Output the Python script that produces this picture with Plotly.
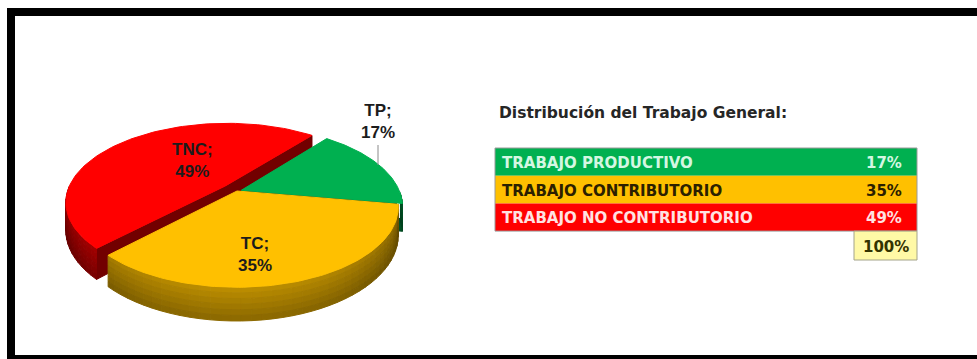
import numpy as np
import plotly.graph_objects as go

# ---- data -------------------------------------------------------------
categories = ["TP", "TC", "TNC"]
names = ["TRABAJO PRODUCTIVO", "TRABAJO CONTRIBUTORIO", "TRABAJO NO CONTRIBUTORIO"]
values = [17, 35, 49]
total_label = "100%"
title_text = "Distribución del Trabajo General:"

# ---- style ------------------------------------------------------------
top_colors = {"TP": "#00B050", "TC": "#FFC000", "TNC": "#FF0000"}
row_text_colors = {"TP": "#D4F7E2", "TC": "#2B2000", "TNC": "#FFE2E2"}
explode = {"TP": 0.03, "TC": 0.0, "TNC": 0.10}
FONT = "Liberation Sans, Arial, sans-serif"
TABLE_FONT = "DejaVu Sans, Verdana, sans-serif"

W, H = 977, 359

# 3-D pie geometry (pixel space, y grows downward)
CX, CY, RX, RY, DEPTH, PERSP = 237, 191, 158, 77, 27, 0.2
START = 51.0  # first slice starts here and slices run clockwise


def hex_rgb(h):
    h = h.lstrip("#")
    return tuple(int(h[i:i + 2], 16) for i in (0, 2, 4))


def shade(h, f):
    r, g, b = hex_rgb(h)
    return "rgb(%d,%d,%d)" % (min(255, r * f), min(255, g * f), min(255, b * f))


def proj(u, w, z):
    s = 1.0 / (1.0 + PERSP * w)
    return CX + RX * u * s, CY - RY * w * s + DEPTH * z * s


fig = go.Figure()


def poly(pts, color):
    xs = [p[0] for p in pts] + [pts[0][0]]
    ys = [p[1] for p in pts] + [pts[0][1]]
    fig.add_trace(go.Scatter(
        x=xs, y=ys, mode="lines", fill="toself", fillcolor=color,
        line=dict(color=color, width=1), hoverinfo="skip", showlegend=False))


total = float(sum(values))
slices = {}
cum = 0.0
for cat, v in zip(categories, values):
    span = v / total * 360.0
    a1 = START - cum          # upper (counter-clockwise) edge
    a0 = a1 - span            # lower edge
    cum += span
    mid = np.radians((a0 + a1) / 2)
    e = explode[cat]
    slices[cat] = dict(a0=a0, a1=a1, ou=e * np.cos(mid), ow=e * np.sin(mid))


def rim(ou, ow, t, z):
    return proj(ou + np.cos(t), ow + np.sin(t), z)


N_BANDS = 6


def draw_slice(cat):
    s = slices[cat]
    a0, a1, ou, ow = s["a0"], s["a1"], s["ou"], s["ow"]
    base = top_colors[cat]
    # radial cut faces turned toward the viewer
    for ang, visible in ((a0, np.cos(np.radians(a0)) > 0), (a1, np.cos(np.radians(a1)) < 0)):
        if not visible:
            continue
        t = np.radians(ang)
        poly([proj(ou, ow, 0), rim(ou, ow, t, 0), rim(ou, ow, t, 1), proj(ou, ow, 1)],
             shade(base, 0.45))
    # outer rim (front half), shaded along the arc and down the wall
    n = max(2, int(abs(a1 - a0) / 3.0))
    angs = np.radians(np.linspace(a0, a1, n + 1))
    bands = np.linspace(0.0, 1.0, N_BANDS + 1)
    for i in range(n):
        ta, tb = angs[i], angs[i + 1]
        tm = (ta + tb) / 2
        if np.sin(tm) >= 0.02:
            continue
        f = 0.50 + 0.25 * (-np.sin(tm)) ** 1.5
        for k in range(N_BANDS):
            za, zb = bands[k], bands[k + 1]
            fk = f * (1.0 - 0.28 * (k + 0.5) / N_BANDS)
            poly([rim(ou, ow, ta, za), rim(ou, ow, tb, za),
                  rim(ou, ow, tb, zb), rim(ou, ow, ta, zb)], shade(base, fk))
    # top face
    arc = np.radians(np.linspace(a0, a1, 90))
    poly([proj(ou, ow, 0)] + [rim(ou, ow, t, 0) for t in arc], base)


# back to front
for cat in ("TNC", "TP", "TC"):
    draw_slice(cat)

# ---- slice labels -----------------------------------------------------
val = dict(zip(categories, values))
label_pos = {"TNC": (192, 160), "TC": (255, 254), "TP": (378, 121)}
for cat in categories:
    lx, ly = label_pos[cat]
    fig.add_annotation(x=lx, y=ly, text=f"<b>{cat};<br>{val[cat]}%</b>", showarrow=False,
                       font=dict(family=FONT, size=17, color="#1c1c1c"),
                       xanchor="center", yanchor="middle")
fig.add_shape(type="line", x0=378, x1=378, y0=145, y1=165,
              line=dict(color="#8a8a8a", width=1))

# ---- summary table ----------------------------------------------------
fig.add_annotation(x=497, y=113, text=f"<b>{title_text}</b>", showarrow=False,
                   xanchor="left", yanchor="middle",
                   font=dict(family=TABLE_FONT, size=15.5, color="#262626"))

TX0, TX1, TY0, RH = 495, 917, 148, 27.7
for i, (cat, name) in enumerate(zip(categories, names)):
    y0 = TY0 + i * RH
    fig.add_shape(type="rect", x0=TX0, x1=TX1, y0=y0, y1=y0 + RH,
                  fillcolor=top_colors[cat], line=dict(width=0), layer="below")
    fig.add_annotation(x=TX0 + 5, y=y0 + RH / 2 + 1, text=f"<b>{name}</b>", showarrow=False,
                       xanchor="left", yanchor="middle",
                       font=dict(family=TABLE_FONT, size=15, color=row_text_colors[cat]))
    fig.add_annotation(x=TX1 - 13, y=y0 + RH / 2 + 1, text=f"<b>{val[cat]}%</b>", showarrow=False,
                       xanchor="right", yanchor="middle",
                       font=dict(family=TABLE_FONT, size=15, color=row_text_colors[cat]))
fig.add_shape(type="rect", x0=TX0, x1=TX1, y0=TY0, y1=TY0 + 3 * RH,
              line=dict(color="#9a9a9a", width=1), fillcolor="rgba(0,0,0,0)")
fig.add_shape(type="rect", x0=854, x1=TX1, y0=TY0 + 3 * RH, y1=260,
              fillcolor="#FFF9A6", line=dict(color="#a3a38a", width=1))
fig.add_annotation(x=911, y=247, text=f"<b>{total_label}</b>", showarrow=False,
                   xanchor="right", yanchor="middle",
                   font=dict(family=TABLE_FONT, size=15, color="#333300"))

# ---- frame ------------------------------------------------------------
for x0, x1, y0, y1 in ((7, W, 8, 16), (7, 15, 8, H), (7, W, 355, H)):
    fig.add_shape(type="rect", x0=x0, x1=x1, y0=y0, y1=y1,
                  fillcolor="#000000", line=dict(width=0))

fig.update_layout(
    width=W, height=H, autosize=False,
    margin=dict(l=0, r=0, t=0, b=0),
    paper_bgcolor="white", plot_bgcolor="white",
    xaxis=dict(range=[0, W], visible=False, fixedrange=True),
    yaxis=dict(range=[H, 0], visible=False, fixedrange=True),
    showlegend=False,
)

fig.write_html("out.html", config={"displayModeBar": False})
